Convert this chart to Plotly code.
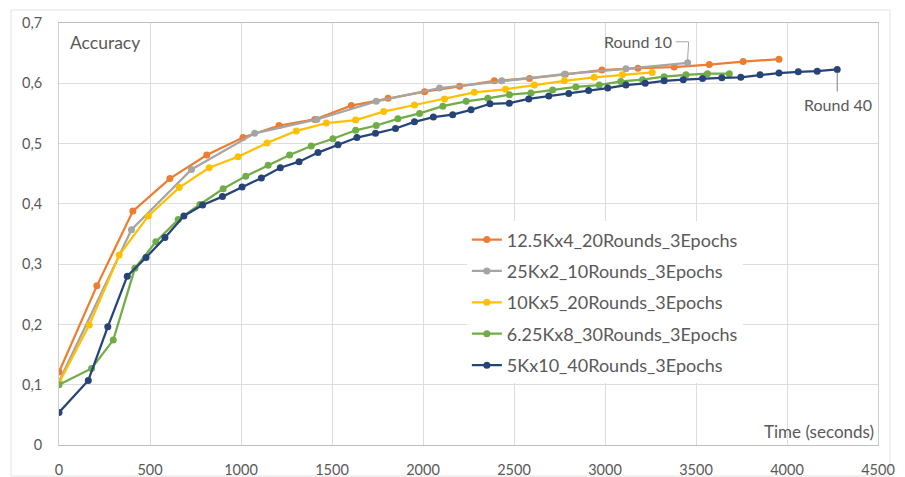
import plotly.graph_objects as go

# ---- data ----
names = ["12.5Kx4_20Rounds_3Epochs", "25Kx2_10Rounds_3Epochs", "10Kx5_20Rounds_3Epochs",
         "6.25Kx8_30Rounds_3Epochs", "5Kx10_40Rounds_3Epochs"]
colors = ["#ED7D31", "#A5A5A5", "#FFC000", "#70AD47", "#264478"]

orange_t = [0, 208, 406, 609, 812, 1011, 1209, 1405, 1606, 1808, 2009, 2201, 2392, 2585, 2782,
            2983, 3181, 3380, 3573, 3759, 3956]
orange_acc = [0.121, 0.264, 0.388, 0.442, 0.481, 0.510, 0.530, 0.540, 0.563, 0.575, 0.586, 0.595,
              0.604, 0.608, 0.615, 0.622, 0.625, 0.627, 0.631, 0.636, 0.640]

gray_t = [0, 398, 728, 1075, 1417, 1743, 2091, 2433, 2777, 3115, 3454]
gray_acc = [0.105, 0.357, 0.457, 0.517, 0.540, 0.570, 0.592, 0.604, 0.615, 0.624, 0.634]

yellow_t = [0, 166, 331, 491, 660, 825, 984, 1143, 1304, 1469, 1630, 1784, 1953, 2118, 2282,
            2453, 2612, 2777, 2941, 3095, 3259]
yellow_acc = [0.103, 0.199, 0.315, 0.380, 0.427, 0.460, 0.478, 0.501, 0.521, 0.534, 0.539, 0.553,
              0.564, 0.574, 0.585, 0.590, 0.597, 0.604, 0.610, 0.614, 0.618]

green_t = [0, 179, 298, 417, 532, 655, 774, 902, 1026, 1149, 1267, 1386, 1505, 1630, 1743, 1862,
           1981, 2109, 2237, 2356, 2475, 2593, 2712, 2840, 2968, 3087, 3206, 3325, 3445, 3563, 3683]
green_acc = [0.100, 0.127, 0.174, 0.293, 0.337, 0.374, 0.399, 0.425, 0.446, 0.464, 0.481, 0.496,
             0.508, 0.522, 0.530, 0.541, 0.550, 0.562, 0.570, 0.575, 0.581, 0.584, 0.589, 0.594,
             0.597, 0.603, 0.606, 0.611, 0.614, 0.616, 0.616]

navy_t = [0, 161, 268, 375, 478, 582, 686, 789, 898, 1006, 1112, 1216, 1319, 1423, 1533, 1637,
          1739, 1849, 1953, 2057, 2163, 2264, 2368, 2474, 2581, 2691, 2801, 2910, 3015, 3115, 3221,
          3325, 3430, 3536, 3642, 3746, 3852, 3956, 4062, 4166, 4276]
navy_acc = [0.054, 0.107, 0.196, 0.280, 0.311, 0.344, 0.380, 0.398, 0.412, 0.428, 0.443, 0.460,
            0.470, 0.485, 0.498, 0.510, 0.517, 0.525, 0.536, 0.544, 0.548, 0.556, 0.566, 0.567,
            0.574, 0.579, 0.583, 0.588, 0.592, 0.597, 0.600, 0.604, 0.606, 0.608, 0.609, 0.610,
            0.614, 0.617, 0.619, 0.620, 0.623]

x_ticks = [0, 500, 1000, 1500, 2000, 2500, 3000, 3500, 4000, 4500]
y_ticks = [0, 0.1, 0.2, 0.3, 0.4, 0.5, 0.6, 0.7]
y_ticklabels = ["0", "0,1", "0,2", "0,3", "0,4", "0,5", "0,6", "0,7"]

series_t = [orange_t, gray_t, yellow_t, green_t, navy_t]
series_acc = [orange_acc, gray_acc, yellow_acc, green_acc, navy_acc]

FONT = "Lato, 'Open Sans', sans-serif"
TXT = "#595959"

fig = go.Figure()
for i, (nm, c, t, a) in enumerate(zip(names, colors, series_t, series_acc)):
    fig.add_trace(go.Scatter(
        x=t, y=a, name=nm, mode="lines+markers", legendgroup=f"g{i}",
        line=dict(color=c, width=2.25),
        marker=dict(color=c, size=7, symbol="circle"),
    ))

fig.update_layout(
    width=905, height=477,
    margin=dict(l=59, r=27, t=23, b=32),
    paper_bgcolor="white", plot_bgcolor="white",
    font=dict(family=FONT, color=TXT, size=14),
    showlegend=True,
    legend=dict(
        x=0.498, y=0.530, xanchor="left", yanchor="top",
        bgcolor="white", borderwidth=0,
        font=dict(family=FONT, size=18, color=TXT),
        traceorder="grouped", tracegroupgap=5,
    ),
    xaxis=dict(
        range=[0, 4500], tickvals=x_ticks, ticks="", showgrid=True,
        gridcolor="#DDDDDD", gridwidth=1, zeroline=False, automargin=False,
        showline=True, linecolor="#BFBFBF", linewidth=1, mirror=True,
        ticklabelstandoff=12, tickfont=dict(size=14.5, color=TXT),
    ),
    yaxis=dict(
        range=[0, 0.7], tickvals=y_ticks, ticktext=y_ticklabels, ticks="", showgrid=True,
        gridcolor="#DDDDDD", gridwidth=1, zeroline=False, automargin=False,
        showline=True, linecolor="#D0D0D0", linewidth=1, mirror=True,
        ticklabelstandoff=13, tickfont=dict(size=14.5, color=TXT),
    ),
)

annotations = [
    dict(text="Accuracy", xref="paper", yref="paper", x=0.011, y=0.953,
         xanchor="left", yanchor="middle", showarrow=False, font=dict(size=17.5, color=TXT)),
    dict(text="Time (seconds)", xref="paper", yref="paper", x=0.9976, y=0.031,
         xanchor="right", yanchor="middle", showarrow=False, font=dict(size=17, color=TXT)),
    dict(text="Round 10", x=gray_t[-1], y=gray_acc[-1], xref="x", yref="y",
         xanchor="right", yanchor="middle", xshift=-14, yshift=21, showarrow=False,
         font=dict(size=16, color=TXT)),
    dict(text="Round 40", x=navy_t[-1], y=navy_acc[-1], xref="x", yref="y",
         xanchor="center", yanchor="middle", xshift=1, yshift=-35, showarrow=False,
         font=dict(size=16, color=TXT)),
]
fig.update_layout(annotations=annotations)

shapes = [
    dict(type="path", xref="x", yref="y", xsizemode="pixel", ysizemode="pixel",
         xanchor=gray_t[-1], yanchor=gray_acc[-1], path="M 0 3 L 1 21 L -12 21",
         line=dict(color="#A5A5A5", width=1)),
    dict(type="path", xref="x", yref="y", xsizemode="pixel", ysizemode="pixel",
         xanchor=navy_t[-1], yanchor=navy_acc[-1], path="M 0 -3 L 0 -22",
         line=dict(color="#7F7F7F", width=1)),
    dict(type="rect", xref="paper", yref="paper",
         x0=(11 - 59) / 819, x1=(890 - 59) / 819, y0=(445 - 476) / 422, y1=(445 - 10) / 422,
         line=dict(color="#E3E3E3", width=1), layer="below"),
]
fig.update_layout(shapes=shapes)

fig.write_html("out.html")
